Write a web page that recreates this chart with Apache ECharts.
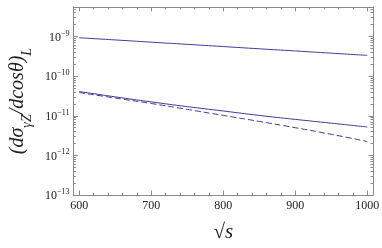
<!DOCTYPE html>
<html><head><meta charset="utf-8">
<script src="https://cdn.jsdelivr.net/npm/echarts@6/dist/echarts.min.js"></script>
<style>html,body{margin:0;padding:0;background:#fff}#c{width:382px;height:248px}</style>
</head><body><div id="c"></div>
<script>
var sqrtS = [600, 650, 700, 750, 800, 850, 900, 950, 1000];
var upperSolid = [9.3e-10, 8.2e-10, 7.2e-10, 6.35e-10, 5.58e-10, 4.9e-10, 4.32e-10, 3.8e-10, 3.34e-10];
var lowerSolid = [4.08e-11, 3.0e-11, 2.24e-11, 1.70e-11, 1.32e-11, 1.02e-11, 8.1e-12, 6.5e-12, 5.2e-12];
var lowerDashed = [3.86e-11, 2.8e-11, 2.04e-11, 1.45e-11, 1.02e-11, 7.2e-12, 5.0e-12, 3.4e-12, 2.24e-12];
var xMajor = [600, 700, 800, 900, 1000];
var xMinor = [];
for (var v = 600; v < 1000; v += 20) { if (v % 100 !== 0) xMinor.push(v); }
var yExponents = [-13, -12, -11, -10, -9];

var X_MIN = 592, X_MAX = 1008;
var Y_MIN = 1e-13, Y_MAX = Math.pow(10, -8.255);
var yMajor = yExponents.map(function (e) { return Math.pow(10, e); });
var yMinor = [];
yExponents.forEach(function (e) {
  for (var k = 2; k <= 9; k++) { var val = k * Math.pow(10, e); if (val < Y_MAX) yMinor.push(val); }
});

var frameColor = '#8a8a8a';
var lineColor = '#3d3d99';
var serif = 'Liberation Serif';

function pairs(ys) { return sqrtS.map(function (x, i) { return [x, ys[i]]; }); }

function xAx(pos, ticks, len, labels) {
  return {
    type: 'value', position: pos, min: X_MIN, max: X_MAX, gridIndex: 0,
    axisLine: { show: true, onZero: false, lineStyle: { color: frameColor, width: 1 } },
    axisTick: { show: true, inside: true, length: len, customValues: ticks, lineStyle: { color: frameColor } },
    axisLabel: labels ? { show: true, customValues: xMajor, fontFamily: serif, fontSize: 12, color: '#222', margin: 5,
      formatter: function (val) { return String(Math.round(val)); } } : { show: false },
    splitLine: { show: false }
  };
}
function yAx(pos, ticks, len, labels) {
  return {
    type: 'log', logBase: 10, position: pos, min: Y_MIN, max: Y_MAX, gridIndex: 0,
    axisLine: { show: true, onZero: false, lineStyle: { color: frameColor, width: 1 } },
    axisTick: { show: true, inside: true, length: len, customValues: ticks, lineStyle: { color: frameColor } },
    axisLabel: labels ? {
      show: true, customValues: yMajor, margin: 4,
      formatter: function (val) {
        var e = Math.round(Math.log10(val));
        return '{b|10}{s|' + '\u2212' + Math.abs(e) + '}';
      },
      rich: {
        b: { fontFamily: serif, fontSize: 12, color: '#222', verticalAlign: 'bottom', lineHeight: 14 },
        s: { fontFamily: serif, fontSize: 8, color: '#222', verticalAlign: 'top', lineHeight: 14, padding: [0, 0, 6, 0] }
      }
    } : { show: false },
    splitLine: { show: false }
  };
}

var chart = echarts.init(document.getElementById('c'), null, { renderer: 'canvas' });
var xAxes = [
  xAx('bottom', xMajor, 4.5, true),
  xAx('bottom', xMinor, 2.5, false),
  xAx('top', xMajor, 4.5, false),
  xAx('top', xMinor, 2.5, false)
];
xAxes[0].name = '\u221As';
xAxes[0].nameLocation = 'middle';
xAxes[0].nameGap = 27;
xAxes[0].nameTextStyle = { fontFamily: serif, fontSize: 21, color: '#222', fontStyle: 'italic' };
var yAxes = [
  yAx('left', yMajor, 4.5, true),
  yAx('left', yMinor, 2.5, false),
  yAx('right', yMajor, 4.5, false),
  yAx('right', yMinor, 2.5, false)
];
yAxes[0].name = '{n|(d\u03C3}{s|\u03B3Z}{n|/dcos\u03B8)}{s|L}';
yAxes[0].nameLocation = 'middle';
yAxes[0].nameRotate = 90;
yAxes[0].nameGap = 38;
yAxes[0].nameTextStyle = {
  rich: {
    n: { fontFamily: serif, fontSize: 20, fontStyle: 'italic', color: '#222', lineHeight: 26, verticalAlign: 'top' },
    s: { fontFamily: serif, fontSize: 14, fontStyle: 'italic', color: '#222', lineHeight: 26, verticalAlign: 'bottom', padding: [7, 0, 0, 0] }
  }
};

chart.setOption({
  animation: false,
  backgroundColor: '#fff',
  grid: { left: 59, right: 7, top: 7, bottom: 45, containLabel: false },
  xAxis: xAxes,
  yAxis: yAxes,
  series: [
    { type: 'line', data: pairs(upperSolid), showSymbol: false, smooth: true, lineStyle: { color: lineColor, width: 1 } },
    { type: 'line', data: pairs(lowerSolid), showSymbol: false, smooth: true, lineStyle: { color: lineColor, width: 1 } },
    { type: 'line', data: pairs(lowerDashed), showSymbol: false, smooth: true, lineStyle: { color: lineColor, width: 1, type: [6, 3] } }
  ]
});
</script></body></html>
